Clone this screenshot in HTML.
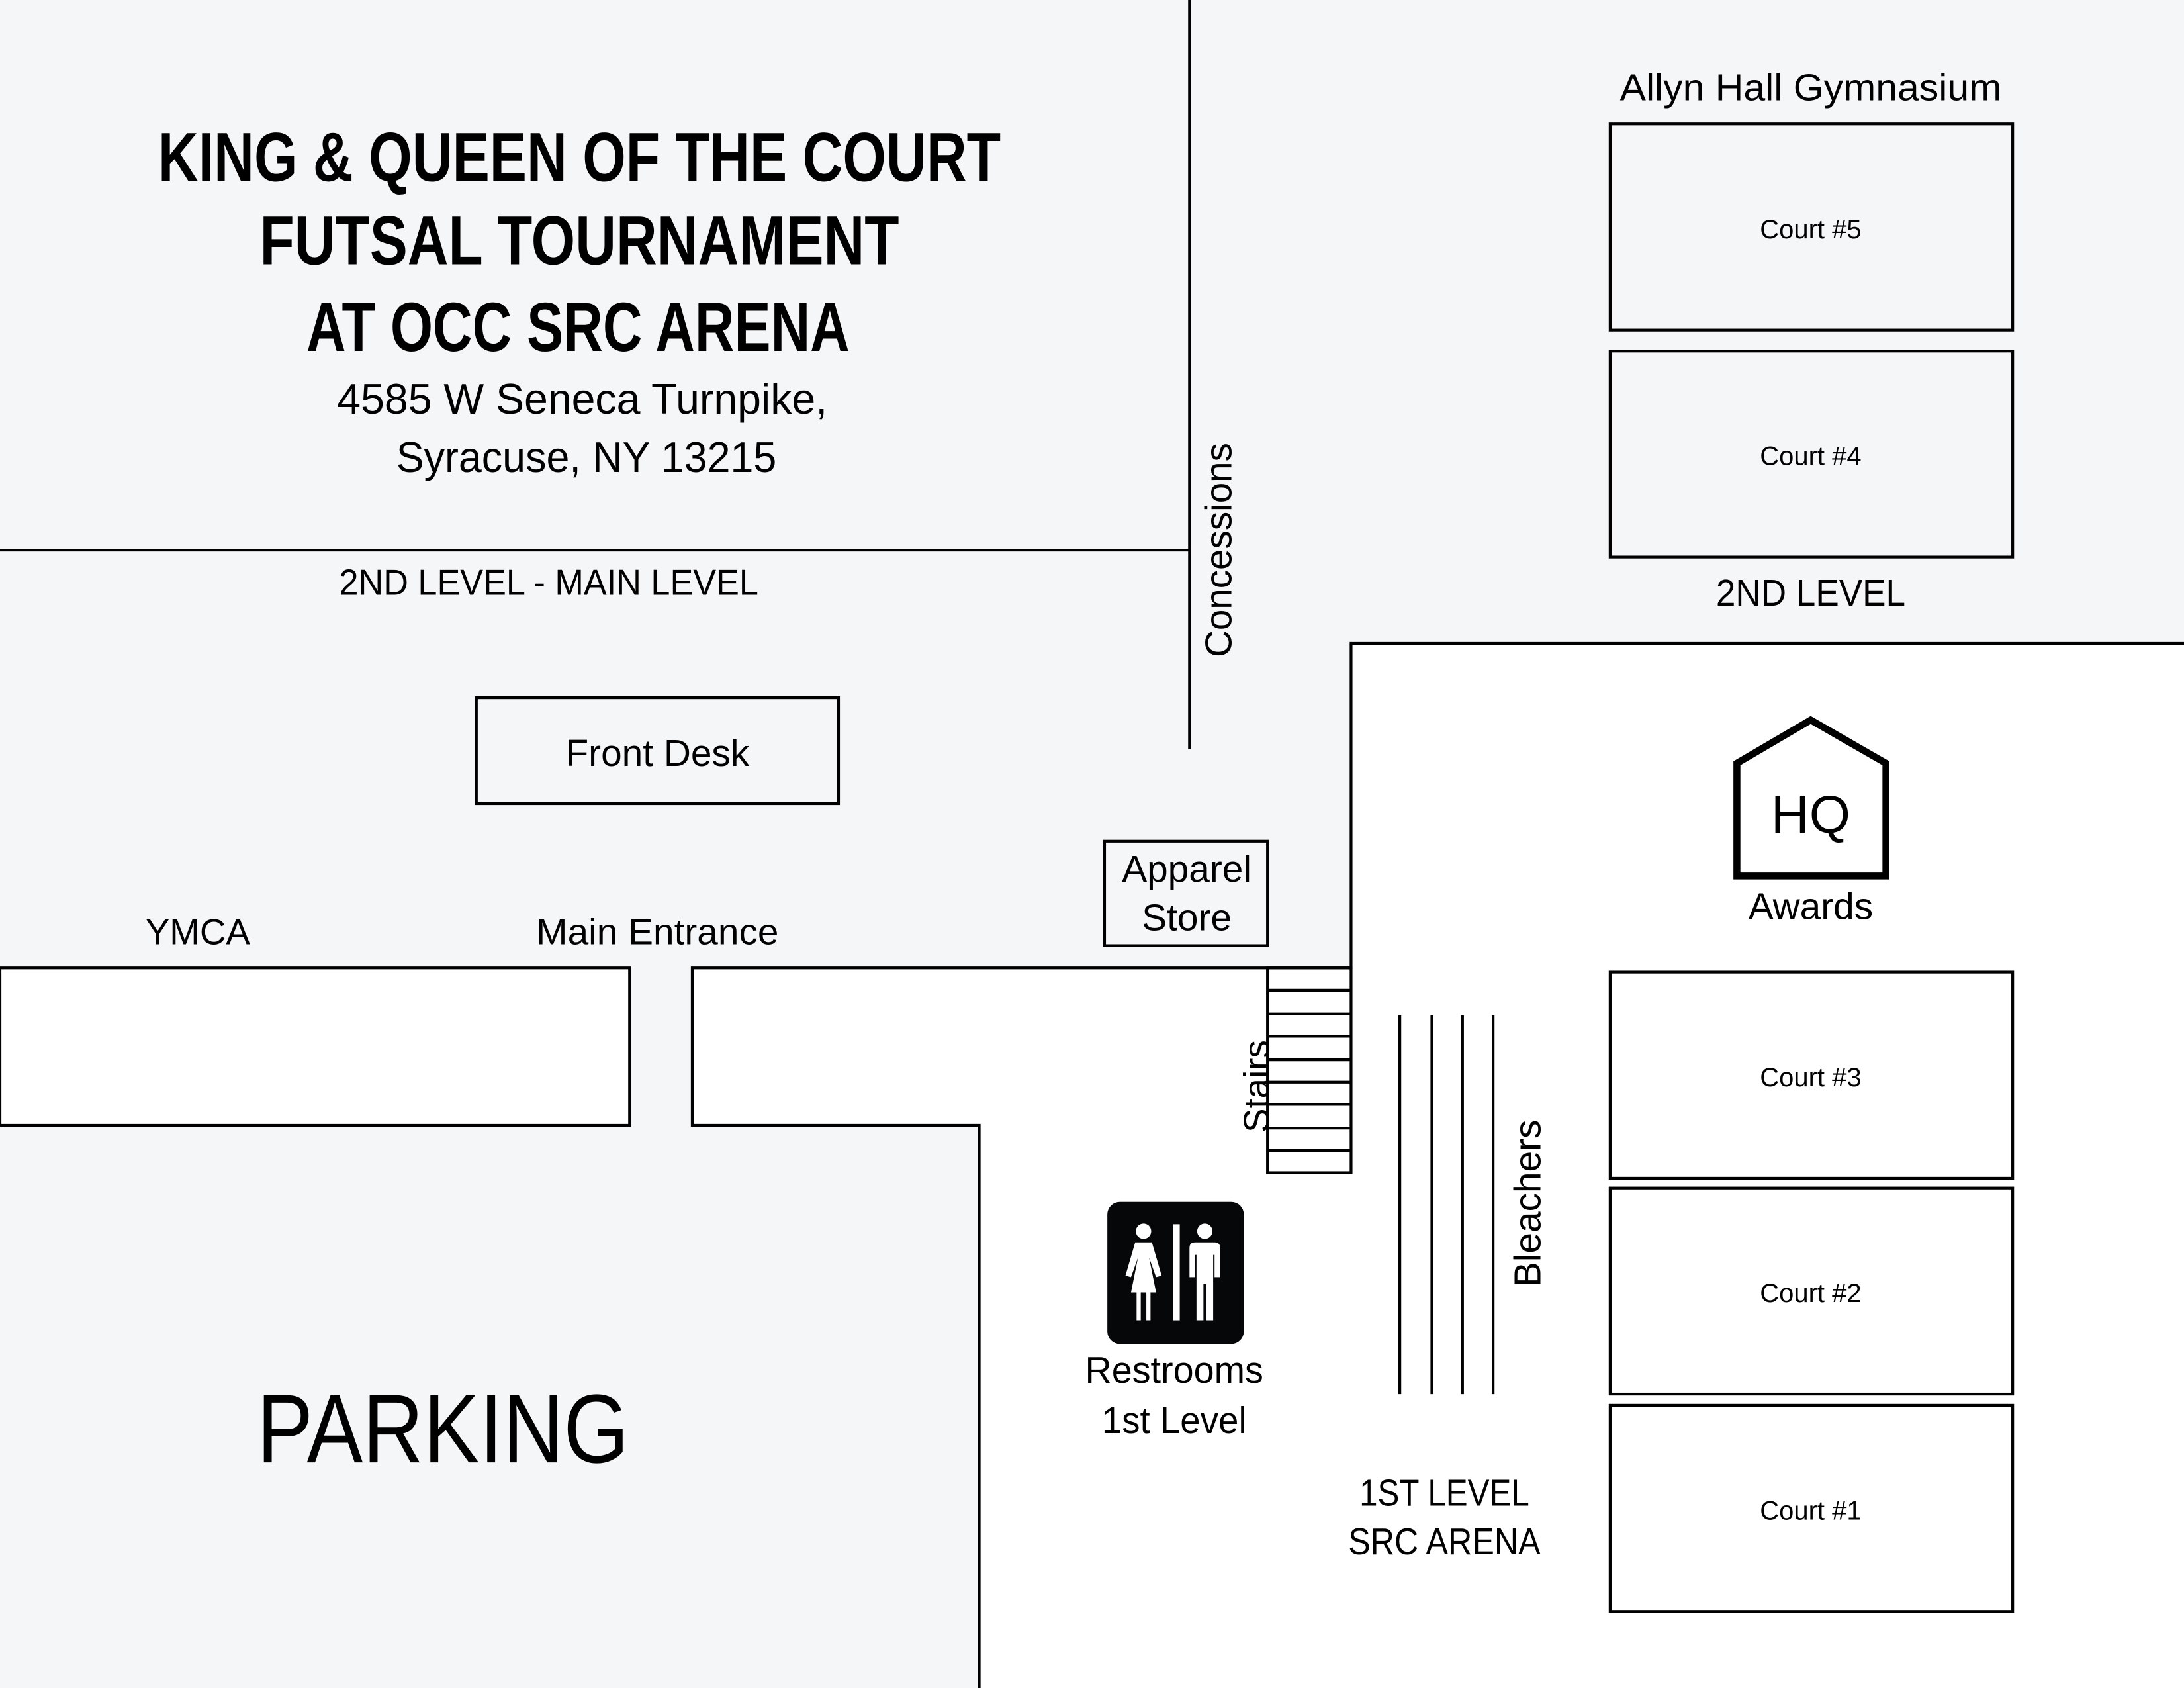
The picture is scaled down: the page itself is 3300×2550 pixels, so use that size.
<!DOCTYPE html>
<html><head><meta charset="utf-8"><style>
html,body{margin:0;padding:0;background:#f5f6f8;}
svg{display:block;}
text{font-family:"Liberation Sans",sans-serif;fill:#000;}
</style></head><body>
<svg width="3300" height="2550" viewBox="0 0 1568 1212" preserveAspectRatio="none" xmlns="http://www.w3.org/2000/svg">
<rect x="0" y="0" width="1568" height="1212" fill="#f5f6f8"/>
<path d="M970,462 L1570,462 L1570,1214 L703,1214 L703,808 L497,808 L497,695 L970,695 Z" fill="#fff"/>
<path d="M1568,462 L970,462 L970,695 L497,695 L497,808 L703,808 L703,1212" fill="none" stroke="#000" stroke-width="2"/>
<rect x="0" y="695" width="452" height="113" fill="#fff" stroke="#000" stroke-width="2"/>
<line x1="0" y1="395" x2="854" y2="395" stroke="#000" stroke-width="2"/>
<line x1="854" y1="0" x2="854" y2="538" stroke="#000" stroke-width="2"/>
<text x="416" y="130" font-size="50" font-weight="bold" text-anchor="middle" textLength="605" lengthAdjust="spacingAndGlyphs">KING &amp; QUEEN OF THE COURT</text>
<text x="416" y="190" font-size="50" font-weight="bold" text-anchor="middle" textLength="459" lengthAdjust="spacingAndGlyphs">FUTSAL TOURNAMENT</text>
<text x="415" y="252" font-size="50" font-weight="bold" text-anchor="middle" textLength="390" lengthAdjust="spacingAndGlyphs">AT OCC SRC ARENA</text>
<text x="418" y="297" font-size="31" text-anchor="middle" textLength="352" lengthAdjust="spacingAndGlyphs">4585 W Seneca Turnpike,</text>
<text x="421" y="339" font-size="31" text-anchor="middle" textLength="273" lengthAdjust="spacingAndGlyphs">Syracuse, NY 13215</text>
<text x="394" y="427" font-size="26" text-anchor="middle" textLength="301" lengthAdjust="spacingAndGlyphs">2ND LEVEL - MAIN LEVEL</text>
<rect x="342" y="501" width="260" height="76" fill="none" stroke="#000" stroke-width="2"/>
<text x="472" y="550" font-size="27" text-anchor="middle">Front Desk</text>
<text x="142" y="678" font-size="26" text-anchor="middle">YMCA</text>
<text x="472" y="678" font-size="26" text-anchor="middle" textLength="174" lengthAdjust="spacingAndGlyphs">Main Entrance</text>
<rect x="793" y="604" width="117" height="75" fill="none" stroke="#000" stroke-width="2"/>
<text x="852" y="633" font-size="27" text-anchor="middle">Apparel</text>
<text x="852" y="668" font-size="27" text-anchor="middle">Store</text>
<text transform="translate(884,395) rotate(-90)" font-size="27" text-anchor="middle" textLength="154" lengthAdjust="spacingAndGlyphs">Concessions</text>
<text x="1300" y="72" font-size="27" text-anchor="middle" textLength="274" lengthAdjust="spacingAndGlyphs">Allyn Hall Gymnasium</text>
<g fill="none" stroke="#000" stroke-width="2">
<rect x="1156" y="89" width="289" height="148"/>
<rect x="1156" y="252" width="289" height="148"/>
<rect x="1156" y="698" width="289" height="148"/>
<rect x="1156" y="853" width="289" height="148"/>
<rect x="1156" y="1009" width="289" height="148"/>
</g>
<g font-size="19" text-anchor="middle">
<text x="1300" y="171">Court #5</text>
<text x="1300" y="334">Court #4</text>
<text x="1300" y="780">Court #3</text>
<text x="1300" y="935">Court #2</text>
<text x="1300" y="1091">Court #1</text>
</g>
<text x="1300" y="435" font-size="27" text-anchor="middle" textLength="136" lengthAdjust="spacingAndGlyphs">2ND LEVEL</text>
<polygon points="1247,548 1300,517 1354,548 1354,629 1247,629" fill="none" stroke="#000" stroke-width="5"/>
<text x="1300" y="598" font-size="38" text-anchor="middle">HQ</text>
<text x="1300" y="660" font-size="27" text-anchor="middle">Awards</text>
<g stroke="#000" stroke-width="2" fill="none">
<rect x="910" y="695" width="60" height="147"/>
<line x1="910" y1="711" x2="970" y2="711"/><line x1="910" y1="728" x2="970" y2="728"/>
<line x1="910" y1="744" x2="970" y2="744"/><line x1="910" y1="761" x2="970" y2="761"/>
<line x1="910" y1="777" x2="970" y2="777"/><line x1="910" y1="793" x2="970" y2="793"/>
<line x1="910" y1="810" x2="970" y2="810"/><line x1="910" y1="826" x2="970" y2="826"/>
<line x1="1005" y1="729" x2="1005" y2="1001"/><line x1="1028" y1="729" x2="1028" y2="1001"/>
<line x1="1050" y1="729" x2="1050" y2="1001"/><line x1="1072" y1="729" x2="1072" y2="1001"/>
</g>
<text transform="translate(911,780) rotate(-90)" font-size="26" text-anchor="middle">Stairs</text>
<text transform="translate(1106,864) rotate(-90)" font-size="27" text-anchor="middle">Bleachers</text>
<rect x="795" y="863" width="98" height="102" rx="9" fill="#050708"/>
<g fill="#fff">
<circle cx="821" cy="884" r="5.5"/>
<path d="M815,892 L827,892 L834,916 L830,917 L825,903 L830,928 L826,928 L826,948 L823,948 L823,928 L819,928 L819,948 L816,948 L816,928 L812,928 L817,903 L812,917 L808,916 Z"/>
<rect x="842" y="879" width="5" height="69"/>
<circle cx="865" cy="884" r="5.5"/>
<path d="M858,892 L872,892 Q876,892 876,896 L876,917 L872,917 L872,901 L871,901 L871,948 L866,948 L866,922 L864,922 L864,948 L859,948 L859,901 L858,901 L858,917 L854,917 L854,896 Q854,892 858,892 Z"/>
</g>
<text x="843" y="993" font-size="27" text-anchor="middle" textLength="128" lengthAdjust="spacingAndGlyphs">Restrooms</text>
<text x="843" y="1029" font-size="27" text-anchor="middle" textLength="104" lengthAdjust="spacingAndGlyphs">1st Level</text>
<text x="1037" y="1081" font-size="27" text-anchor="middle" textLength="122" lengthAdjust="spacingAndGlyphs">1ST LEVEL</text>
<text x="1037" y="1116" font-size="27" text-anchor="middle" textLength="138" lengthAdjust="spacingAndGlyphs">SRC ARENA</text>
<text x="318" y="1050" font-size="70" text-anchor="middle" textLength="267" lengthAdjust="spacingAndGlyphs">PARKING</text>
</svg>
</body></html>
